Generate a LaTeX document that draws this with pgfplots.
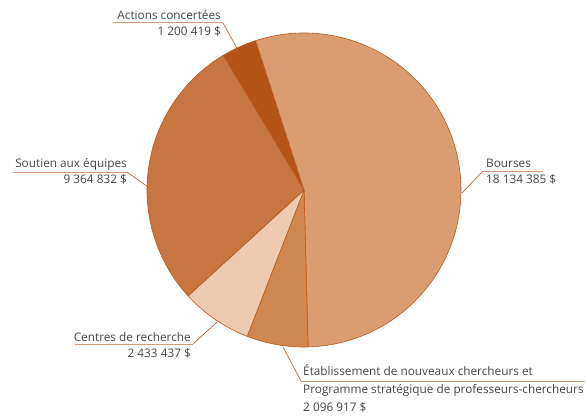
\documentclass[border=0pt]{standalone}
\usepackage{pgfplots}
\usepackage{pgfplotstable}
\pgfplotsset{compat=1.18}
\usepackage{fontspec}
\setmainfont{Open Sans}

\definecolor{cBourses}{HTML}{DA9D72}
\definecolor{cEtab}{HTML}{D0864F}
\definecolor{cCentres}{HTML}{EECAB0}
\definecolor{cSoutien}{HTML}{C77641}
\definecolor{cActions}{HTML}{B45416}
\definecolor{cEdge}{HTML}{B9581C}
\definecolor{cUnder}{HTML}{D39A73}
\definecolor{cText}{HTML}{444444}

% values in dollars, in clockwise order from Actions concertées
\pgfplotstableread{
id value
1 1200419
2 18134385
3 2096917
4 2433437
5 9364832
}\pietable

\begin{document}
\begin{tikzpicture}
  \pgfplotstablegetelem{0}{value}\of\pietable \let\vA\pgfplotsretval
  \pgfplotstablegetelem{1}{value}\of\pietable \let\vB\pgfplotsretval
  \pgfplotstablegetelem{2}{value}\of\pietable \let\vC\pgfplotsretval
  \pgfplotstablegetelem{3}{value}\of\pietable \let\vD\pgfplotsretval
  \pgfplotstablegetelem{4}{value}\of\pietable \let\vE\pgfplotsretval
  \edef\total{\fpeval{\vA+\vB+\vC+\vD+\vE}}
  % angles, Bourses ends at -88.5 deg
  \edef\aA{\fpeval{-88.5+360*(\vA+\vB)/\total}}
  \edef\aB{\fpeval{\aA-360*\vA/\total}}
  \edef\aC{\fpeval{\aB-360*\vB/\total}}
  \edef\aD{\fpeval{\aC-360*\vC/\total}}
  \edef\aE{\fpeval{\aD-360*\vD/\total}}
  \edef\aF{\fpeval{\aE-360*\vE/\total}}
  \def\R{157pt}
  \begin{axis}[
    scale only axis,
    width=586pt, height=416pt,
    xmin=0, xmax=586, ymin=0, ymax=416,
    hide axis, clip=false,
  ]
    \path (axis cs:0,0) rectangle (axis cs:586,416);
    \def\wedge#1#2#3{%
      \filldraw[fill=#1, draw=cEdge, line width=0.6pt, line join=round]
        (axis cs:304,226) -- ([shift={(#2:\R)}]axis cs:304,226)
        arc[start angle=#2, end angle=#3, radius=\R] -- cycle;}
    \wedge{cActions}{\aA}{\aB}
    \wedge{cBourses}{\aB}{\aC}
    \wedge{cEtab}{\aC}{\aD}
    \wedge{cCentres}{\aD}{\aE}
    \wedge{cSoutien}{\aE}{\aF}

    % underlines and leaders
    \draw[cUnder, line width=1pt] (axis cs:113,393) -- (axis cs:223,393);
    \draw[cEdge, line width=0.6pt] (axis cs:223,393) -- (axis cs:238,366);
    \draw[cUnder, line width=1pt] (axis cs:483,245) -- (axis cs:543,245);
    \draw[cEdge, line width=0.6pt] (axis cs:483,245) -- (axis cs:462,223);
    \draw[cUnder, line width=1pt] (axis cs:13,244) -- (axis cs:127,244);
    \draw[cEdge, line width=0.6pt] (axis cs:127,244) -- (axis cs:148,229);
    \draw[cUnder, line width=1pt] (axis cs:75,72) -- (axis cs:193,72);
    \draw[cEdge, line width=0.6pt] (axis cs:193,72) -- (axis cs:217,94);
    \draw[cUnder, line width=1pt] (axis cs:301,35) -- (axis cs:585,35);
    \draw[cEdge, line width=0.6pt] (axis cs:301,35) -- (axis cs:283,69);

    \begin{scope}[every node/.style={text=cText, font=\fontsize{11.8}{14}\selectfont, inner sep=0pt}]
      \node[anchor=base east] at (axis cs:221,396) {Actions concertées};
      \node[anchor=base east] at (axis cs:221,380) {1 200 419 \$};
      \node[anchor=base west] at (axis cs:486,249) {Bourses};
      \node[anchor=base west] at (axis cs:486,233) {18 134 385 \$};
      \node[anchor=base east] at (axis cs:127,249) {Soutien aux équipes};
      \node[anchor=base east] at (axis cs:127,233) {9 364 832 \$};
      \node[anchor=base east] at (axis cs:191,75) {Centres de recherche};
      \node[anchor=base east] at (axis cs:191,59) {2 433 437 \$};
      \node[anchor=base west] at (axis cs:303,41) {Établissement de nouveaux chercheurs et};
      \node[anchor=base west] at (axis cs:303,23) {Programme stratégique de professeurs-chercheurs};
      \node[anchor=base west] at (axis cs:303,5) {2 096 917 \$};
    \end{scope}
  \end{axis}
\end{tikzpicture}
\end{document}
